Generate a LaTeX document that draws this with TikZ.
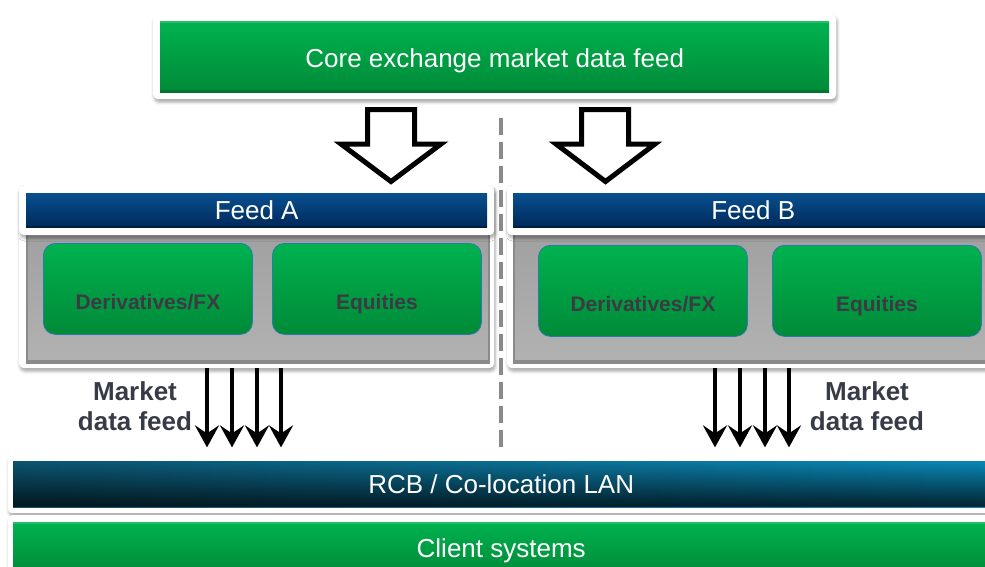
\documentclass[tikz,border=0pt]{standalone}
\usepackage{fontspec}
\setmainfont{Liberation Sans}
\usetikzlibrary{arrows.meta,shadows.blur,fadings,calc}

\definecolor{gTop}{HTML}{00B24F}
\definecolor{gBot}{HTML}{008A38}
\definecolor{bTop}{HTML}{08508F}
\definecolor{bBot}{HTML}{00295B}
\definecolor{grayTop}{HTML}{A0A0A0}
\definecolor{grayMid}{HTML}{BABABA}
\definecolor{grayBot}{HTML}{B2B2B2}
\definecolor{grayEdge}{HTML}{8A8A8A}
\definecolor{labelGray}{HTML}{363B47}
\definecolor{boxText}{HTML}{3C3B43}
\definecolor{dashGray}{HTML}{8A8A8A}
\definecolor{rcbL}{HTML}{0C5470}
\definecolor{rcbR}{HTML}{0A88B6}
\definecolor{boxEdge}{HTML}{2A7AB0}

\newcommand\diagfont{\fontsize{26}{30}\selectfont}
\newcommand\cellfont{\fontsize{21}{25}\selectfont\bfseries}

\begin{document}
\begin{tikzpicture}[x=1pt,y=-1pt,
  frame/.style={fill=white, rounded corners=5pt, inner sep=0pt, anchor=north west,
    blur shadow={shadow xshift=1pt, shadow yshift=-3pt, shadow blur radius=3pt, shadow opacity=35}},
  captext/.style={text height=18.6pt, text depth=0pt},
  greenbar/.style={top color=gTop, bottom color=gBot, inner sep=0pt, anchor=north west,
    text=white, font=\diagfont, captext,
    path picture={
      \draw[black, opacity=.15, line width=4pt]
        (path picture bounding box.south west) -- (path picture bounding box.south east);
      \draw[white, opacity=.15, line width=3pt]
        (path picture bounding box.north west) -- (path picture bounding box.north east);}},
  bluebar/.style={top color=bTop, bottom color=bBot, inner sep=0pt, anchor=north west,
    text=white, font=\diagfont, captext,
    path picture={
      \draw[black, opacity=.25, line width=3pt]
        (path picture bounding box.south west) -- (path picture bounding box.south east);}},
  graybody/.style={top color=grayTop, middle color=grayMid, bottom color=grayBot,
    draw=grayEdge, line width=2pt, inner sep=0pt, anchor=north west,
    path picture={
      \draw[black, opacity=.22, line width=6pt]
        (path picture bounding box.south west) -- (path picture bounding box.south east);}},
  rcbbar/.style={left color=rcbL, right color=rcbR, inner sep=0pt, anchor=north west,
    text=white, font=\diagfont, captext,
    path picture={
      \fill[black, path fading=north, opacity=.75]
        (path picture bounding box.north west) rectangle (path picture bounding box.south east);}},
  cellbox/.style={top color=gTop, bottom color=gBot, draw=boxEdge, line width=0.8pt,
    rounded corners=12pt, inner sep=0pt, anchor=north west,
    minimum width=209pt, minimum height=91pt},
  celltext/.style={text=boxText, font=\cellfont, anchor=base, inner sep=0pt},
  mdlabel/.style={text=labelGray, font=\diagfont\bfseries, anchor=base, inner sep=0pt},
  hollow/.style={draw=black, fill=white, line width=5pt, miter limit=10},
  flow/.style={line width=4pt, -{Stealth[length=22pt,width=24pt,inset=8pt]}},
  divider/.style={draw=dashGray, line width=4.5pt, dash pattern=on 17pt off 7pt}
]
\useasboundingbox (0,0) rectangle (985,566);
\clip (0,0) rectangle (985,566);

% core feed at the top
\node[frame, minimum width=683pt, minimum height=85pt] (coreframe) at (153,14) {};
\node[greenbar, minimum width=669pt, minimum height=71pt] (core) at (160,21)
  {\raisebox{-1.5pt}{Core exchange market data feed}};

% hollow arrows from the core feed to both feeds
\draw[hollow] (367.5,109.5) -- (414.5,109.5) -- (414.5,144) -- (441,144)
  -- (391,181.5) -- (341,144) -- (367.5,144) -- cycle;
\draw[hollow] (581.5,109.5) -- (628.5,109.5) -- (628.5,144) -- (655,144)
  -- (605.5,181.5) -- (556,144) -- (581.5,144) -- cycle;

% feed A panel
\node[frame, minimum width=475pt, minimum height=183pt] (panA) at (19,185) {};
\node[graybody, minimum width=462pt, minimum height=134pt] (bodyA) at (26,228) {};
\node[frame, minimum width=475pt, minimum height=50pt] (headA) at (19,185) {};
\node[bluebar, minimum width=461pt, minimum height=34pt] (feedA) at (26,193) {Feed A};
\node[cellbox] (derA) at (43,243) {};
\node[cellbox] (eqA) at (272,243) {};
\node[celltext] (derAt) at ($(derA.center)+(0,20.5)$) {Derivatives/FX};
\node[celltext] (eqAt) at ($(eqA.center)+(0,20.5)$) {Equities};

% feed B panel
\node[frame, minimum width=493pt, minimum height=183pt] (panB) at (507,185) {};
\node[graybody, minimum width=480pt, minimum height=134pt] (bodyB) at (513,228) {};
\node[frame, minimum width=493pt, minimum height=50pt] (headB) at (507,185) {};
\node[bluebar, minimum width=480pt, minimum height=34pt] (feedB) at (513,193) {Feed B};
\node[cellbox] (derB) at (538,245) {};
\node[cellbox] (eqB) at (772,245) {};
\node[celltext] (derBt) at ($(derB.center)+(0,20.5)$) {Derivatives/FX};
\node[celltext] (eqBt) at ($(eqB.center)+(0,20.5)$) {Equities};

% dashed divider between the two feeds
\coordinate (divTop) at (501,118);
\coordinate (divBot) at (501,447);
\draw[divider] (divTop) -- (divBot);

% RCB / co-location LAN and client systems
\node[frame, rounded corners=4pt, minimum width=1000pt, minimum height=58pt] (rcbframe) at (8,455) {};
\node[rcbbar, minimum width=976pt, minimum height=46pt] (rcb) at (13,461) {RCB / Co-location LAN};
\node[frame, rounded corners=4pt, minimum width=1000pt, minimum height=62pt] (cliframe) at (8,515) {};
\node[greenbar, minimum width=976pt, minimum height=52pt] (client) at (13,522) {Client systems};

% market data feed arrows
\foreach \dx in {188,213,238,262}
  \draw[flow] (panA.south west) ++(\dx,0) -- ++(0,79);
\foreach \dx in {208,233,258,282}
  \draw[flow] (panB.south west) ++(\dx,0) -- ++(0,79);

\node[mdlabel] (mdA1) at (135,400) {Market};
\node[mdlabel] (mdA2) at (135,430) {data feed};
\node[mdlabel] (mdB1) at (867,400) {Market};
\node[mdlabel] (mdB2) at (867,430) {data feed};
\end{tikzpicture}
\end{document}
